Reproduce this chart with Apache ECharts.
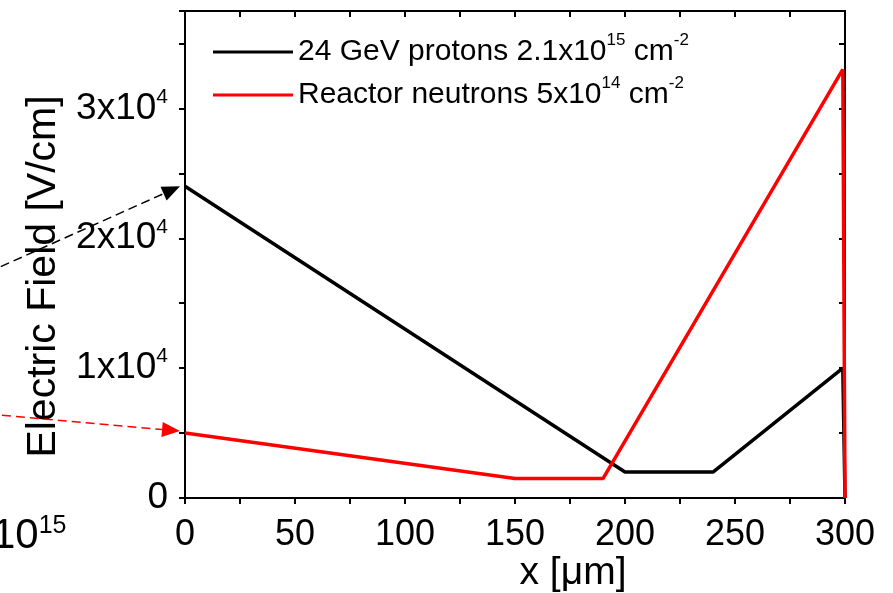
<!DOCTYPE html>
<html>
<head>
<meta charset="utf-8">
<script src="https://cdn.jsdelivr.net/npm/echarts@6/dist/echarts.min.js"></script>
<style>html,body{margin:0;padding:0;background:#fff;}#c{width:893px;height:593px;}</style>
</head>
<body>
<div id="c"></div>
<script>
// ---- data ----
const protonX = [0, 200, 240, 299, 300];
const protonY = [24000, 2000, 2000, 10000, 0];
const neutronX = [0, 150, 190, 299, 300];
const neutronY = [5000, 1500, 1500, 33000, 0];
const seriesNames = ['protons', 'neutrons'];
const legendLabels = ['24 GeV protons 2.1x10{sup|15} cm{sup|-2}', 'Reactor neutrons 5x10{sup|14} cm{sup|-2}'];
const xTickLabels = [0, 50, 100, 150, 200, 250, 300];
const yTickLabels = [0, 10000, 20000, 30000];

const FONT = 'Liberation Sans, Arial, Helvetica, sans-serif';
const zip = (xs, ys) => xs.map((x, i) => [x, ys[i]]);

const chart = echarts.init(document.getElementById('c'), null, {renderer: 'canvas'});

function legendCfg(i, top) {
  return {
    data: [seriesNames[i]],
    left: 208, top: top,
    icon: 'rect', itemWidth: 80, itemHeight: 3,
    formatter: () => legendLabels[i],
    textStyle: {
      fontFamily: FONT, fontSize: 30, lineHeight: 40, color: '#000',
      rich: {sup: {fontFamily: FONT, fontSize: 17, lineHeight: 12, verticalAlign: 'top', color: '#000'}}
    },
    selectedMode: false
  };
}

const option = {
  animation: false,
  backgroundColor: '#fff',
  grid: {left: 185, right: 48, top: 11, bottom: 95, containLabel: false, outerBoundsMode: 'none'},
  legend: [legendCfg(0, 27), legendCfg(1, 70)],
  xAxis: [{
    type: 'value', min: 0, max: 300, interval: 25, position: 'bottom',
    name: 'x [μm]', nameLocation: 'middle', nameGap: 56, nameMoveOverlap: false,
    nameTextStyle: {fontFamily: FONT, fontSize: 39, color: '#000', padding: [0, 0, 0, 116]},
    axisLine: {show: true, onZero: false, lineStyle: {color: '#000', width: 2}},
    axisTick: {show: true, inside: false, length: 6, lineStyle: {color: '#000', width: 2}},
    axisLabel: {
      fontFamily: FONT, fontSize: 36, color: '#000', margin: 19,
      formatter: v => xTickLabels.includes(v) ? String(v) : ''
    },
    splitLine: {show: false}
  }, {
    type: 'value', min: 0, max: 300, interval: 25, position: 'top',
    axisLine: {show: true, onZero: false, lineStyle: {color: '#000', width: 2}},
    axisTick: {show: true, inside: true, length: 6, lineStyle: {color: '#000', width: 2}},
    axisLabel: {show: false}, splitLine: {show: false}
  }],
  yAxis: [{
    type: 'value', min: 0, max: 37500, interval: 5000, position: 'left',
    name: 'Electric Field [V/cm]', nameLocation: 'middle', nameGap: 121, nameRotate: 90, nameMoveOverlap: false,
    nameTextStyle: {fontFamily: FONT, fontSize: 41, color: '#000', padding: [0, 44, 0, 0]},
    axisLine: {show: true, onZero: false, lineStyle: {color: '#000', width: 2}},
    axisTick: {show: true, inside: false, length: 6, lineStyle: {color: '#000', width: 2}},
    axisLabel: {
      fontFamily: FONT, fontSize: 37, lineHeight: 44, color: '#000', margin: 17,
      formatter: v => {
        if (!yTickLabels.includes(v)) return '';
        if (v === 0) return '0';
        return (v / 10000) + 'x10{sup|4}';
      },
      rich: {sup: {fontFamily: FONT, fontSize: 21, lineHeight: 18, verticalAlign: 'top', color: '#000'}}
    },
    splitLine: {show: false}
  }, {
    type: 'value', min: 0, max: 37500, interval: 5000, position: 'right',
    axisLine: {show: true, onZero: false, lineStyle: {color: '#000', width: 2}},
    axisTick: {show: true, inside: true, length: 6, lineStyle: {color: '#000', width: 2}},
    axisLabel: {show: false}, splitLine: {show: false}
  }],
  series: [{
    name: seriesNames[0], type: 'line', data: zip(protonX, protonY),
    symbol: 'none', color: '#000', lineStyle: {color: '#000', width: 3.5}, z: 3
  }, {
    name: seriesNames[1], type: 'line', data: zip(neutronX, neutronY),
    symbol: 'none', color: '#ff0000', lineStyle: {color: '#ff0000', width: 3.5}, z: 4
  }]
};
chart.setOption(option);

// decorative pointer arrows (from cropped neighbouring panel) aimed at the series start points
function arrow(tip, start, color) {
  const dx = tip[0] - start[0], dy = tip[1] - start[1];
  const len = Math.hypot(dx, dy), ux = dx / len, uy = dy / len;
  const L = 18, W = 7.5;
  const base = [tip[0] - ux * L, tip[1] - uy * L];
  return [{
    type: 'line', silent: true, z: 10,
    shape: {x1: start[0], y1: start[1], x2: base[0], y2: base[1]},
    style: {stroke: color, lineWidth: 1.5, lineDash: [9, 5]}
  }, {
    type: 'polygon', silent: true, z: 10,
    shape: {points: [tip, [base[0] - uy * W, base[1] + ux * W], [base[0] + uy * W, base[1] - ux * W]]},
    style: {fill: color}
  }];
}
const pP = chart.convertToPixel({gridIndex: 0}, [protonX[0], protonY[0]]);
const pN = chart.convertToPixel({gridIndex: 0}, [neutronX[0], neutronY[0]]);
const tipP = [pP[0] - 5, pP[1]], tipN = [pN[0] - 5, pN[1] - 2];
chart.setOption({
  graphic: [
    ...arrow(tipP, [-12, tipP[1] + 86], '#000'),
    ...arrow(tipN, [-12, tipN[1] - 17], '#ff0000'),
    {
      type: 'text', left: -8, top: 514, silent: true,
      style: {
        text: '10{sup|15}', fontFamily: FONT, fontSize: 42, lineHeight: 44, fill: '#000',
        rich: {sup: {fontFamily: FONT, fontSize: 25, lineHeight: 22, verticalAlign: 'top', fill: '#000'}}
      }
    }
  ]
});
</script>
</body>
</html>
